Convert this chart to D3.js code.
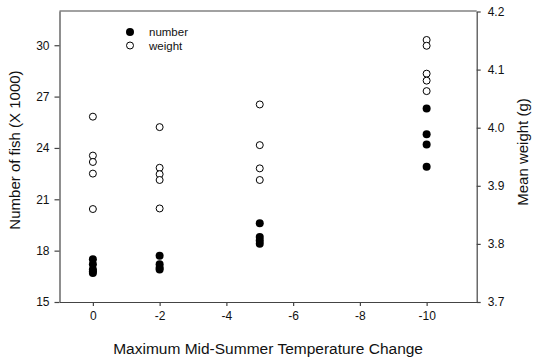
<!DOCTYPE html>
<html>
<head>
<meta charset="utf-8">
<script src="https://cdn.jsdelivr.net/npm/d3@7"></script>
<style>
  body { margin: 0; background: #fff; }
  svg { display: block; font-family: Arial, 'Liberation Sans', sans-serif; }
</style>
</head>
<body>
<svg class="fish" width="533" height="362"></svg>
<script>
// temperature change for each sample
const numberTemp = [0, 0, 0, 0, 0, -2, -2, -2, -2, -5, -5, -5, -5, -10, -10, -10, -10];
const numberFish = [17.5, 17.2, 16.9, 16.8, 16.7, 17.7, 17.2, 17.0, 16.9, 19.6, 18.8, 18.6, 18.4, 26.3, 24.8, 24.2, 22.9];

const weightTemp = [0, 0, 0, 0, 0, -2, -2, -2, -2, -2, -5, -5, -5, -5, -10, -10, -10, -10, -10];
const weightMean = [4.019, 3.952, 3.941, 3.921, 3.860, 4.001, 3.931, 3.920, 3.910, 3.861, 4.040, 3.970, 3.930, 3.910, 4.151, 4.141, 4.093, 4.081, 4.063];

const xTicks = [0, -2, -4, -6, -8, -10];
const leftTicks = [15, 18, 21, 24, 27, 30];
const rightTicks = [3.7, 3.8, 3.9, 4.0, 4.1, 4.2];

const legendItems = ['number', 'weight'];

function draw() {
  const left = 59.5, right = 476.7, top = 11, bottom = 302;
  const axisCol = '#444';

  const x = d3.scaleLinear().domain([1, -11.5]).range([left, right]);
  const yL = d3.scaleLinear().domain([15, 32]).range([bottom, top]);
  const yR = d3.scaleLinear().domain([3.7, 4.2]).range([bottom, bottom - 0.5 * 581]);

  const svg = d3.select('svg.fish');

  const xAxis = svg.append('g')
      .attr('transform', `translate(0, ${bottom})`)
      .call(d3.axisBottom(x).tickValues(xTicks).tickSize(4).tickPadding(5).tickSizeOuter(0).tickFormat(d => String(d)));

  const lAxis = svg.append('g')
      .attr('transform', `translate(${left}, 0)`)
      .call(d3.axisLeft(yL).tickValues(leftTicks).tickSize(5).tickPadding(5).tickSizeOuter(0));

  const rAxis = svg.append('g')
      .attr('transform', `translate(${right}, 0)`)
      .call(d3.axisRight(yR).tickValues(rightTicks).tickSize(4).tickPadding(7).tickSizeOuter(0).tickFormat(d3.format('.1f')));

  [xAxis, lAxis, rAxis].forEach(a => {
    a.selectAll('path, line').style('stroke', axisCol).style('stroke-width', '1.2px');
    a.selectAll('text').style('fill', '#111').style('font-size', '12px');
  });

  // top line of the frame
  svg.append('line')
      .attr('x1', x(1)).attr('x2', x(-11.5))
      .attr('y1', top).attr('y2', top)
      .style('stroke', axisCol)
      .style('stroke-width', '1.2px');

  // points
  svg.append('g').selectAll('circle')
      .data(weightMean)
      .enter()
      .append('circle')
      .attr('cx', (d, i) => x(weightTemp[i]))
      .attr('cy', d => yR(d))
      .attr('r', 3.5)
      .style('fill', '#fff')
      .style('stroke', '#000')
      .style('stroke-width', '1px');

  svg.append('g').selectAll('circle')
      .data(numberFish)
      .enter()
      .append('circle')
      .attr('cx', (d, i) => x(numberTemp[i]))
      .attr('cy', d => yL(d))
      .attr('r', 4)
      .style('fill', '#000');

  // legend
  const leg = svg.append('g').attr('transform', 'translate(130, 32)');
  leg.selectAll('circle')
      .data(legendItems)
      .enter()
      .append('circle')
      .attr('cx', 0)
      .attr('cy', (d, i) => i * 13.5)
      .attr('r', (d, i) => i ? 3.5 : 4)
      .style('fill', (d, i) => i ? '#fff' : '#000')
      .style('stroke', '#000')
      .style('stroke-width', (d, i) => i ? '1px' : '0');
  leg.selectAll('text')
      .data(legendItems)
      .enter()
      .append('text')
      .attr('x', 19)
      .attr('y', (d, i) => i * 13.5)
      .attr('dy', '0.35em')
      .text(d => d)
      .style('font-size', '11.5px')
      .style('fill', '#111');

  // axis titles
  svg.append('text')
      .attr('x', (left + right) / 2)
      .attr('y', 349)
      .attr('dy', '0.35em')
      .style('text-anchor', 'middle')
      .style('font-size', '15.5px')
      .style('fill', '#111')
      .text('Maximum Mid-Summer Temperature Change');

  svg.append('text')
      .attr('transform', 'translate(15, 150) rotate(-90)')
      .attr('dy', '0.35em')
      .style('text-anchor', 'middle')
      .style('font-size', '15px')
      .style('fill', '#111')
      .text('Number of fish (X 1000)');

  svg.append('text')
      .attr('transform', 'translate(523, 152) rotate(-90)')
      .attr('dy', '0.35em')
      .style('text-anchor', 'middle')
      .style('font-size', '15px')
      .style('fill', '#111')
      .text('Mean weight (g)');
}

draw();
</script>
</body>
</html>
